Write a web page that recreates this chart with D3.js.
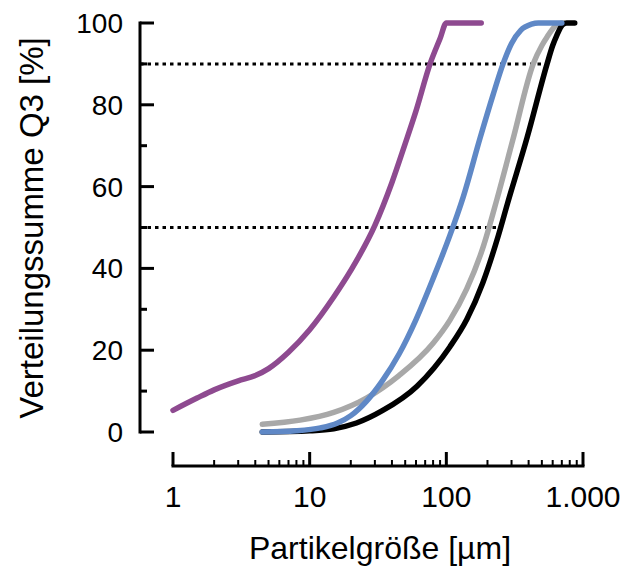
<!DOCTYPE html>
<html>
<head>
<meta charset="utf-8">
<script src="https://cdn.jsdelivr.net/npm/d3@7"></script>
<style>
  html, body { margin: 0; padding: 0; background: #fff; }
  svg { display: block; }
  text { font-family: "Liberation Sans", Arial, sans-serif; fill: #000; }
</style>
</head>
<body>
<svg id="chart" width="623" height="569"></svg>
<script>
// Cumulative particle size distributions Q3 (x in µm, y in %)
const purpleX = [1, 1.5, 2, 3, 4, 5, 7, 10, 15, 20, 30, 40, 50, 60, 76, 90, 100, 180];
const purpleY = [5.3, 8.3, 10.3, 12.5, 13.8, 15.5, 19.5, 25, 33, 39.5, 50.5, 61, 70.5, 78.5, 90, 96.2, 100, 100];

const blueX = [4.5, 8, 12, 16, 20, 26, 34, 45, 60, 80, 106, 133, 177, 220, 260, 300, 350, 420, 470, 700];
const blueY = [0, 0.3, 1, 2.2, 4, 7.5, 12.5, 19, 27.5, 37.5, 48, 57.5, 72, 82.5, 90, 95, 98.2, 99.7, 100, 100];

const grayX = [4.5, 8.5, 15, 26, 45, 80, 106, 141, 185, 235, 307, 432, 500, 546, 640, 710];
const grayY = [1.9, 2.9, 4.8, 8.3, 13.8, 21.7, 27.3, 35, 45, 57, 71.5, 90, 94.5, 96.6, 99.5, 100];

const blackX = [4.5, 10, 15, 22, 34, 61, 106, 141, 185, 240, 281, 390, 546, 600, 640, 710, 760, 870];
const blackY = [0, 0.3, 0.8, 2.2, 5.2, 11.2, 20.8, 27.5, 36.5, 48, 56, 72, 90, 94.5, 96.8, 99.6, 100, 100];

// Reference levels (Q3 = 50 % and 90 %) drawn up to the coarsest curve
const refLevels = [50, 90];
const refEnds = [250, 546];

const yTicks = [0, 20, 40, 60, 80, 100];
const yMinorTicks = [10, 30, 50, 70, 90];
const xTicks = [1, 10, 100, 1000];
const xTickLabels = ["1", "10", "100", "1.000"];

const series = [
  { xs: grayX, ys: grayY, color: "#a8a8a8" },
  { xs: blackX, ys: blackY, color: "#000000" },
  { xs: blueX, ys: blueY, color: "#5f88c6" },
  { xs: purpleX, ys: purpleY, color: "#8e4a90" }
];

const svg = d3.select("#chart");
const x = d3.scaleLog().domain([1, 1000]).range([173, 583]);
const y = d3.scaleLinear().domain([0, 100]).range([432, 23]);
const yAxisX = 140;
const xAxisY = 466;

// Y axis: spine with inward ticks
const yAxis = svg.append("g");
yAxis.append("line")
  .attr("x1", yAxisX).attr("x2", yAxisX)
  .attr("y1", y(100)).attr("y2", y(0))
  .attr("stroke", "#000").attr("stroke-width", 3).attr("stroke-linecap", "square");
yAxis.selectAll(".ymaj").data(yTicks).enter().append("line")
  .attr("x1", yAxisX).attr("x2", yAxisX + 14)
  .attr("y1", d => y(d)).attr("y2", d => y(d))
  .attr("stroke", "#000").attr("stroke-width", 3);
yAxis.selectAll(".ymin").data(yMinorTicks).enter().append("line")
  .attr("x1", yAxisX).attr("x2", yAxisX + 7)
  .attr("y1", d => y(d)).attr("y2", d => y(d))
  .attr("stroke", "#000").attr("stroke-width", 3);
yAxis.selectAll(".ylab").data(yTicks).enter().append("text")
  .attr("x", 123).attr("y", d => y(d))
  .attr("dy", "0.36em")
  .attr("text-anchor", "end")
  .attr("font-size", 28)
  .text(d => d);

// X axis: separate baseline with upward ticks (log scale)
const minorX = [];
for (const dec of [1, 10, 100]) for (let k = 2; k <= 9; k++) minorX.push(dec * k);
const xAxis = svg.append("g");
xAxis.append("line")
  .attr("x1", x(1)).attr("x2", x(1000))
  .attr("y1", xAxisY).attr("y2", xAxisY)
  .attr("stroke", "#000").attr("stroke-width", 3).attr("stroke-linecap", "square");
xAxis.selectAll(".xmaj").data(xTicks).enter().append("line")
  .attr("x1", d => x(d)).attr("x2", d => x(d))
  .attr("y1", xAxisY).attr("y2", xAxisY - 14)
  .attr("stroke", "#000").attr("stroke-width", 3);
xAxis.selectAll(".xmin").data(minorX).enter().append("line")
  .attr("x1", d => x(d)).attr("x2", d => x(d))
  .attr("y1", xAxisY).attr("y2", xAxisY - 6)
  .attr("stroke", "#000").attr("stroke-width", 2);
xAxis.selectAll(".xlab").data(xTicks).enter().append("text")
  .attr("x", d => x(d)).attr("y", 507)
  .attr("text-anchor", "middle")
  .attr("font-size", 30)
  .text((d, i) => xTickLabels[i]);

// Reference dotted lines
svg.selectAll(".ref").data(refLevels).enter().append("line")
  .attr("x1", yAxisX).attr("x2", (d, i) => x(refEnds[i]))
  .attr("y1", d => y(d)).attr("y2", d => y(d))
  .attr("stroke", "#000").attr("stroke-width", 3)
  .attr("stroke-dasharray", "3.5,4");

// Distribution curves
const line = d3.line()
  .x(d => x(d[0]))
  .y(d => y(d[1]))
  .curve(d3.curveMonotoneX);
svg.selectAll(".curve").data(series).enter().append("path")
  .attr("d", s => line(s.xs.map((v, i) => [v, s.ys[i]])))
  .attr("fill", "none")
  .attr("stroke", s => s.color)
  .attr("stroke-width", 5.5)
  .attr("stroke-linecap", "round")
  .attr("stroke-linejoin", "round");

// Axis titles
svg.append("text")
  .attr("x", 380).attr("y", 559)
  .attr("text-anchor", "middle")
  .attr("font-size", 32)
  .text("Partikelgröße [µm]");
svg.append("text")
  .attr("transform", "translate(43,228) rotate(-90)")
  .attr("text-anchor", "middle")
  .attr("font-size", 33)
  .text("Verteilungssumme Q3 [%]");
</script>
</body>
</html>
